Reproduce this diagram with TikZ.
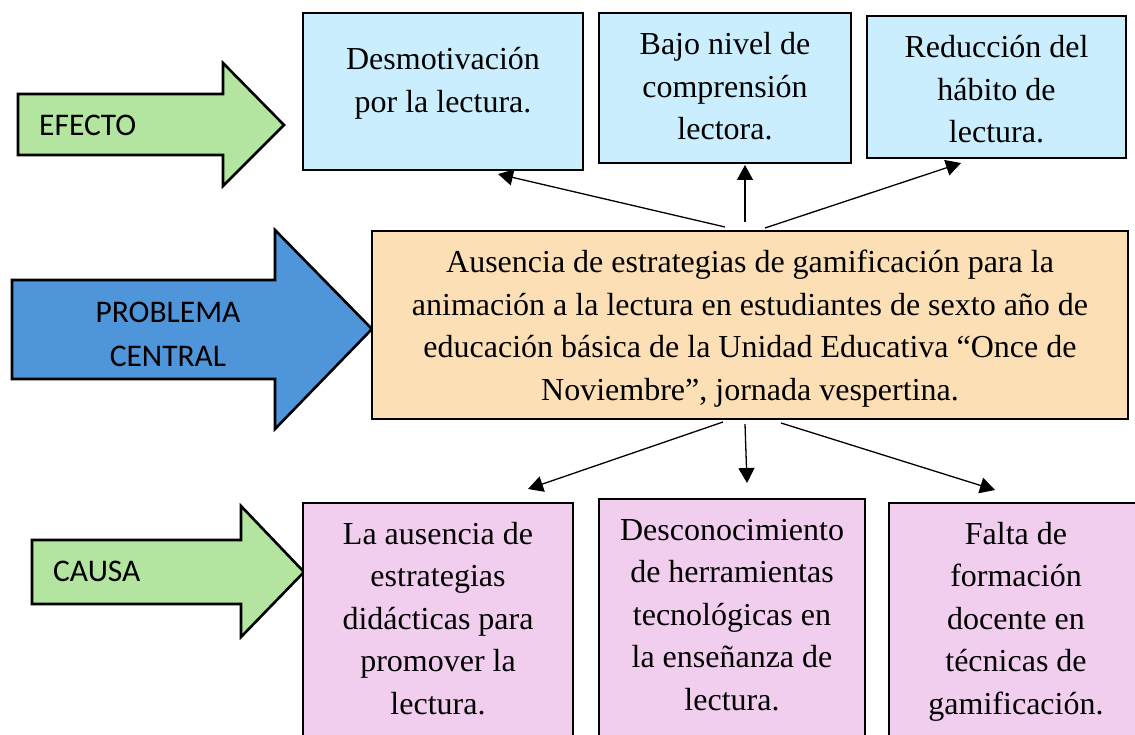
\documentclass[tikz,border=0pt]{standalone}
\usepackage{fontspec}
\setmainfont{Liberation Serif}
\newfontfamily\labelfont{Carlito}
\usetikzlibrary{arrows.meta}
\definecolor{efblue}{HTML}{CAEEFD}
\definecolor{arrgreen}{HTML}{B3E5A1}
\definecolor{arrblue}{HTML}{4E95D9}
\definecolor{cenorange}{HTML}{FCDFB5}
\definecolor{capink}{HTML}{F1CEEE}
\newcommand{\boxlines}[2]{\raisebox{#1}[0pt][0pt]{\begin{tabular}{@{}c@{}}#2\end{tabular}}}
\tikzset{
  x=1pt,y=-1pt,
  boxbase/.style={draw=black,line width=2.6pt,inner sep=0pt,anchor=center,
    font=\fontsize{32}{42.5}\selectfont},
  effectbox/.style={boxbase,fill=efblue},
  problembox/.style={boxbase,fill=cenorange},
  causebox/.style={boxbase,fill=capink},
  bigarrow/.style={draw=black,line width=2.6pt,line join=miter},
  arrowtext/.style={font=\labelfont\fontsize{31.5}{44}\selectfont,align=center,inner sep=0pt},
  link/.style={draw=black,line width=1.3pt,-{Triangle[length=15pt,width=16pt]}}
}
\begin{document}
\begin{tikzpicture}
\useasboundingbox (0,0) rectangle (1135,735);
\clip (0,0) rectangle (1135,735);
% block arrows
\draw[bigarrow,fill=arrgreen] (18,94) -- (223,94) -- (223,63) -- (284,125) -- (223,186) -- (223,155) -- (18,155) -- cycle;
\draw[bigarrow,fill=arrblue] (12,280) -- (275,280) -- (275,230) -- (372,329) -- (275,429) -- (275,379) -- (12,379) -- cycle;
\draw[bigarrow,fill=arrgreen] (32,540) -- (241,540) -- (241,506) -- (304,572) -- (241,637) -- (241,604) -- (32,604) -- cycle;
\node[arrowtext,anchor=west] (efecto) at (39,125) {EFECTO};
\node[arrowtext] (problema) at (168,334) {PROBLEMA\\CENTRAL};
\node[arrowtext,anchor=west] (causa) at (53,571) {CAUSA};
% effect boxes
\node[effectbox,minimum width=280pt,minimum height=157pt] (e1) at (443,91.5) {\boxlines{3pt}{Desmotivación\\por la lectura.}};
\node[effectbox,minimum width=252pt,minimum height=150pt] (e2) at (725,88) {\boxlines{-7pt}{Bajo nivel de\\comprensión\\lectora.}};
\node[effectbox,minimum width=259pt,minimum height=142pt] (e3) at (996.5,87) {\boxlines{-11pt}{Reducción del\\hábito de\\lectura.}};
% central problem
\node[problembox,minimum width=756pt,minimum height=188pt] (centro) at (750,325) {\boxlines{-9pt}{Ausencia de estrategias de gamificación para la\\animación a la lectura en estudiantes de sexto año de\\educación básica de la Unidad Educativa “Once de\\Noviembre”, jornada vespertina.}};
% cause boxes
\node[causebox,minimum width=270pt,minimum height=242pt] (c1) at (438,624) {\boxlines{-3pt}{La ausencia de\\estrategias\\didácticas para\\promover la\\lectura.}};
\node[causebox,minimum width=266pt,minimum height=246pt] (c2) at (732,622) {\boxlines{-1pt}{Desconocimiento\\de herramientas\\tecnológicas en\\la enseñanza de\\lectura.}};
\node[causebox,minimum width=251pt,minimum height=242pt] (c3) at (1014.5,624) {\hspace*{3pt}\boxlines{-3pt}{Falta de\\formación\\docente en\\técnicas de\\gamificación.}};
% connector ends
\coordinate (ut1) at (725,227); \coordinate (uh1) at (498,174);
\coordinate (ut2) at (745,222); \coordinate (uh2) at (745,165);
\coordinate (ut3) at (765,228); \coordinate (uh3) at (961,163);
\coordinate (dt1) at (723,422); \coordinate (dh1) at (528,489);
\coordinate (dt2) at (745,424); \coordinate (dh2) at (747,483);
\coordinate (dt3) at (781,423); \coordinate (dh3) at (995,490);
\draw[link] (ut1) -- (uh1);
\draw[link] (ut2) -- (uh2);
\draw[link] (ut3) -- (uh3);
\draw[link] (dt1) -- (dh1);
\draw[link] (dt2) -- (dh2);
\draw[link] (dt3) -- (dh3);
\end{tikzpicture}
\end{document}
